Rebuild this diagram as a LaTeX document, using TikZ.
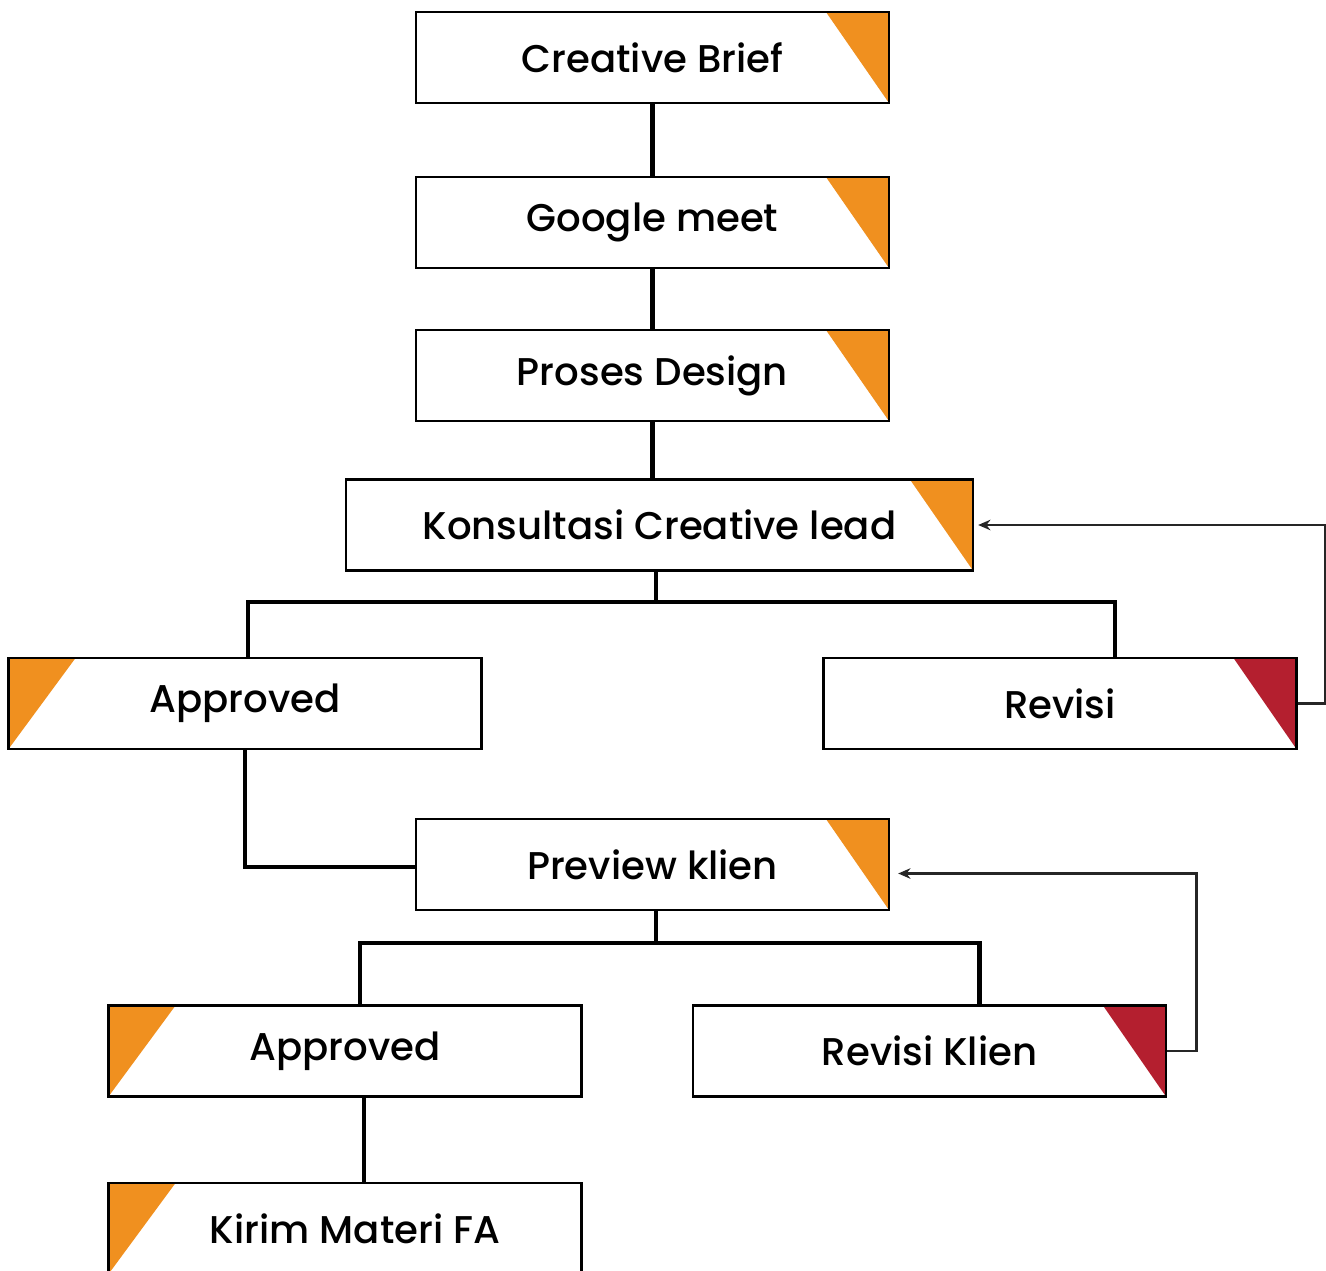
\documentclass[tikz,border=0pt]{standalone}
\usepackage{fontspec}
\setmainfont{Poppins Medium}
\usetikzlibrary{arrows.meta}

\definecolor{flagorange}{HTML}{F0901F}
\definecolor{flagred}{HTML}{B41F2F}

\tikzset{
  stage/.style={draw=black, line width=1.4pt, fill=white, inner sep=0pt,
    minimum width=9.46cm, minimum height=1.82cm,
    font=\fontsize{22}{26}\selectfont},
  wide/.style={minimum width=12.54cm},
  flagright/.style={path picture={
    \fill[#1] ([xshift=-1.26cm]path picture bounding box.north east)
      -- (path picture bounding box.north east)
      -- (path picture bounding box.south east) -- cycle;}},
  flagleft/.style={path picture={
    \fill[#1] (path picture bounding box.north west)
      -- ([xshift=1.34cm]path picture bounding box.north west)
      -- (path picture bounding box.south west) -- cycle;}},
  link/.style={line width=2.4pt},
  loopback/.style={line width=1.6pt, draw=black!85,
    -{Stealth[length=7pt,width=6pt]}},
}

\begin{document}
\begin{tikzpicture}[x=0.02cm, y=-0.02cm]
\useasboundingbox (0,0) rectangle (1326,1271);
\clip (0,0) rectangle (1326,1271);

% main line
\node[stage, flagright=flagorange] (brief)   at (652.5,57.5)  {Creative Brief};
\node[stage, flagright=flagorange] (meet)    at (652.5,222.5) {Google meet};
\node[stage, flagright=flagorange] (proses)  at (652.5,375.5) {Proses Design};
\node[stage, wide, flagright=flagorange] (konsul) at (659.5,525) {Konsultasi Creative lead};

% first decision
\node[stage, flagleft=flagorange] (approvedA) at (245,703.5)  {Approved};
\node[stage, flagright=flagred]   (revisi)    at (1060,703.5) {Revisi};

\node[stage, flagright=flagorange] (preview) at (652.5,864.5) {Preview klien};

% second decision
\node[stage, flagleft=flagorange] (approvedB) at (345,1051)   {Approved};
\node[stage, flagright=flagred]   (revisiK)   at (929.5,1051) {Revisi Klien};
\node[stage, flagleft=flagorange] (kirim)     at (345,1228.5) {\hspace{0.4cm}Kirim Materi FA};

\draw[link] (brief.south) -- (meet.north);
\draw[link] (meet.south) -- (proses.north);
\draw[link] (proses.south) -- (proses.south |- konsul.north);

\coordinate (bar1) at (656,602);
\draw[link] (konsul.south -| bar1) -- (bar1);
\draw[link] ([xshift=0.06cm]approvedA.north) |- (bar1) -| ([xshift=1.1cm]revisi.north);
\draw[link] (approvedA.south) |- ([yshift=-0.05cm]preview.west);

\coordinate (bar2) at (656,943);
\draw[link] (preview.south -| bar2) -- (bar2);
\draw[link] ([xshift=0.3cm]approvedB.north) |- (bar2) -| ([xshift=1.0cm]revisiK.north);
\draw[link] ([xshift=0.38cm]approvedB.south) -- ([xshift=0.38cm]kirim.north);

% feedback loops
\draw[loopback] (revisi.east) -- ++(28,0) |- ([xshift=0.08cm]konsul.east);
\draw[loopback] (revisiK.east) -- ++(29,0) |- ([shift={(8,9)}]preview.east);
\end{tikzpicture}
\end{document}
